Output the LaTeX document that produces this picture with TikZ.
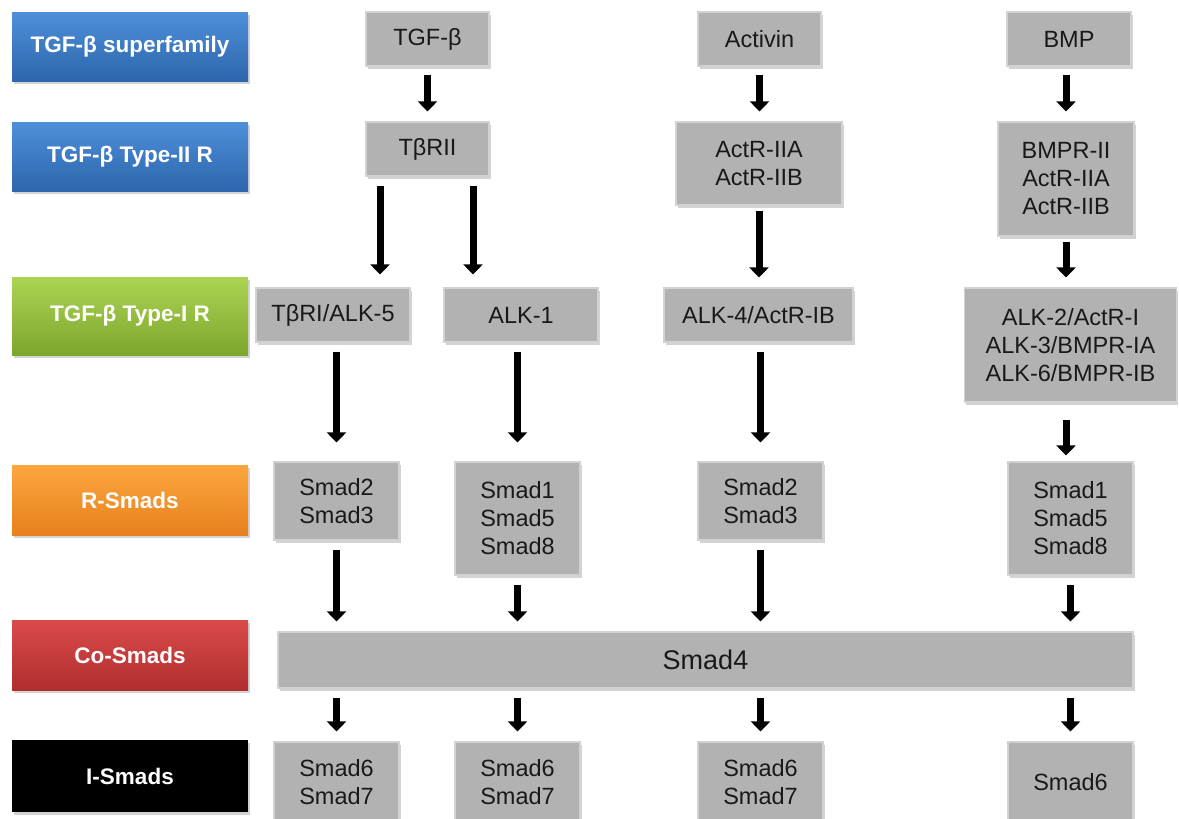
\documentclass[tikz,border=0pt]{standalone}
\usepackage{fontspec}
\setmainfont{Liberation Sans}
\usetikzlibrary{arrows.meta,shadows,positioning}
\definecolor{boxfill}{HTML}{B2B2B2}
\definecolor{boxedge}{HTML}{D2D2D2}
\definecolor{bluetop}{HTML}{4F8FDA}
\definecolor{bluebot}{HTML}{2C66AC}
\definecolor{greentop}{HTML}{ACD452}
\definecolor{greenbot}{HTML}{7DA62E}
\definecolor{orangetop}{HTML}{FCA640}
\definecolor{orangebot}{HTML}{E7811C}
\definecolor{redtop}{HTML}{DB4A4A}
\definecolor{redbot}{HTML}{B02E2E}
\tikzset{
  gbox/.style={draw=boxedge, line width=1.2pt, fill=boxfill, align=center,
    inner sep=0pt, text=black!90,
    font=\fontsize{23.5}{28}\selectfont,
    drop shadow={shadow xshift=1.5pt, shadow yshift=-2.5pt, opacity=0.35}},
  lab/.style={minimum width=236pt, inner sep=0pt, text=white,
    font=\bfseries\fontsize{22.5}{26}\selectfont,
    drop shadow={shadow xshift=1.5pt, shadow yshift=-2.5pt, opacity=0.35}},
  arr/.style={line width=7pt, -{Triangle[width=19pt,length=10pt]},
    shorten <=9pt, shorten >=10pt}
}
\begin{document}
\begin{tikzpicture}[x=1pt,y=-1pt]
    \useasboundingbox (0,0) rectangle (1179,819);

    % row labels
    \node[lab, minimum height=69pt, top color=bluetop, bottom color=bluebot] (lsup) at (130,46.5) {TGF-β superfamily};
    \node[lab, minimum height=69pt, top color=bluetop, bottom color=bluebot] (ltwo) at (130,156.5) {TGF-β Type-II R};
    \node[lab, minimum height=78pt, top color=greentop, bottom color=greenbot] (lone) at (130,316) {TGF-β Type-I R};
    \node[lab, minimum height=70pt, top color=orangetop, bottom color=orangebot] (lrs) at (130,500) {R-Smads};
    \node[lab, minimum height=70pt, top color=redtop, bottom color=redbot] (lco) at (130,655) {Co-Smads};
    \node[lab, minimum height=72pt, fill=black] (lis) at (130,776) {I-Smads};

    % ligands
    \node[gbox, minimum width=123pt, minimum height=54pt] (tgfb) at (427.5,39) {TGF-β};
    \node[gbox, minimum width=123pt, minimum height=54pt] (activin) at (759.5,39) {Activin};
    \node[gbox, minimum width=124pt, minimum height=54pt] (bmp) at (1069,39) {BMP};

    % type II receptors
    \node[gbox, minimum width=123pt, minimum height=54pt] (tbr2) at (427.5,149) {TβRII};
    \node[gbox, minimum width=166pt, minimum height=83pt] (actr2) at (759,163.5) {ActR-IIA\\ActR-IIB};
    \node[gbox, minimum width=136pt, minimum height=114pt] (bmpr2) at (1066,179) {BMPR-II\\ActR-IIA\\ActR-IIB};

    % type I receptors
    \node[gbox, minimum width=154pt, minimum height=54pt] (alk5) at (333,315) {TβRI/ALK-5};
    \node[gbox, minimum width=154pt, minimum height=54pt] (alk1) at (521,315) {ALK-1};
    \node[gbox, minimum width=189pt, minimum height=54pt] (alk4) at (758.5,315) {ALK-4/ActR-IB};
    \node[gbox, minimum width=212pt, minimum height=114pt] (alk2) at (1070.5,345) {ALK-2/ActR-I\\ALK-3/BMPR-IA\\ALK-6/BMPR-IB};

    % R-Smads
    \node[gbox, minimum width=125pt, minimum height=78pt] (rsa) at (336.5,501) {Smad2\\Smad3};
    \node[gbox, minimum width=125pt, minimum height=113pt] (rsb) at (517.5,518.5) {Smad1\\Smad5\\Smad8};
    \node[gbox, minimum width=125pt, minimum height=78pt] (rsc) at (760.5,501) {Smad2\\Smad3};
    \node[gbox, minimum width=125pt, minimum height=113pt] (rsd) at (1070.5,518.5) {Smad1\\Smad5\\Smad8};

    % Co-Smad
    \node[gbox, minimum width=855pt, minimum height=56pt, font=\fontsize{27}{30}\selectfont] (smad4) at (705.5,660) {Smad4};

    % I-Smads
    \node[gbox, minimum width=125pt, minimum height=80pt] (isa) at (336.5,782) {Smad6\\Smad7};
    \node[gbox, minimum width=125pt, minimum height=80pt] (isb) at (517.5,782) {Smad6\\Smad7};
    \node[gbox, minimum width=125pt, minimum height=80pt] (isc) at (760.5,782) {Smad6\\Smad7};
    \node[gbox, minimum width=125pt, minimum height=80pt] (isd) at (1070.5,782) {Smad6};

    % arrows
    \draw[arr, shorten <=8pt] (tgfb.south) -- (tbr2.north);
    \draw[arr, shorten <=8pt] (activin.south) -- (activin.south |- actr2.north);
    \draw[arr, shorten <=8pt] (bmpr2.north |- bmp.south) -- (bmpr2.north);

    \draw[arr, shorten >=13pt] ([xshift=-47.5pt]tbr2.south) -- ([xshift=47pt]alk5.north);
    \draw[arr, shorten >=13pt] ([xshift=45.5pt]tbr2.south) -- ([xshift=-48pt]alk1.north);
    \draw[arr, shorten <=5pt] (actr2.south) -- (actr2.south |- alk4.north);
    \draw[arr, shorten <=5pt] (bmpr2.south) -- (bmpr2.south |- alk2.north);

    \draw[arr, shorten >=19pt] (alk5.south -| rsa.north) -- (rsa.north);
    \draw[arr, shorten >=19pt] (alk1.south -| rsb.north) -- (rsb.north);
    \draw[arr, shorten >=19pt] (alk4.south -| rsc.north) -- (rsc.north);
    \draw[arr, shorten <=17pt, shorten >=6pt] (alk2.south -| bmpr2.south) -- (rsd.north -| bmpr2.south);

    \draw[arr] (rsa.south) -- (rsa.south |- smad4.north);
    \draw[arr] (rsb.south) -- (rsb.south |- smad4.north);
    \draw[arr] (rsc.south) -- (rsc.south |- smad4.north);
    \draw[arr] (rsd.south) -- (rsd.south |- smad4.north);

    \draw[arr] (smad4.south -| isa.north) -- (isa.north);
    \draw[arr] (smad4.south -| isb.north) -- (isb.north);
    \draw[arr] (smad4.south -| isc.north) -- (isc.north);
    \draw[arr] (smad4.south -| isd.north) -- (isd.north);

\end{tikzpicture}
\end{document}
